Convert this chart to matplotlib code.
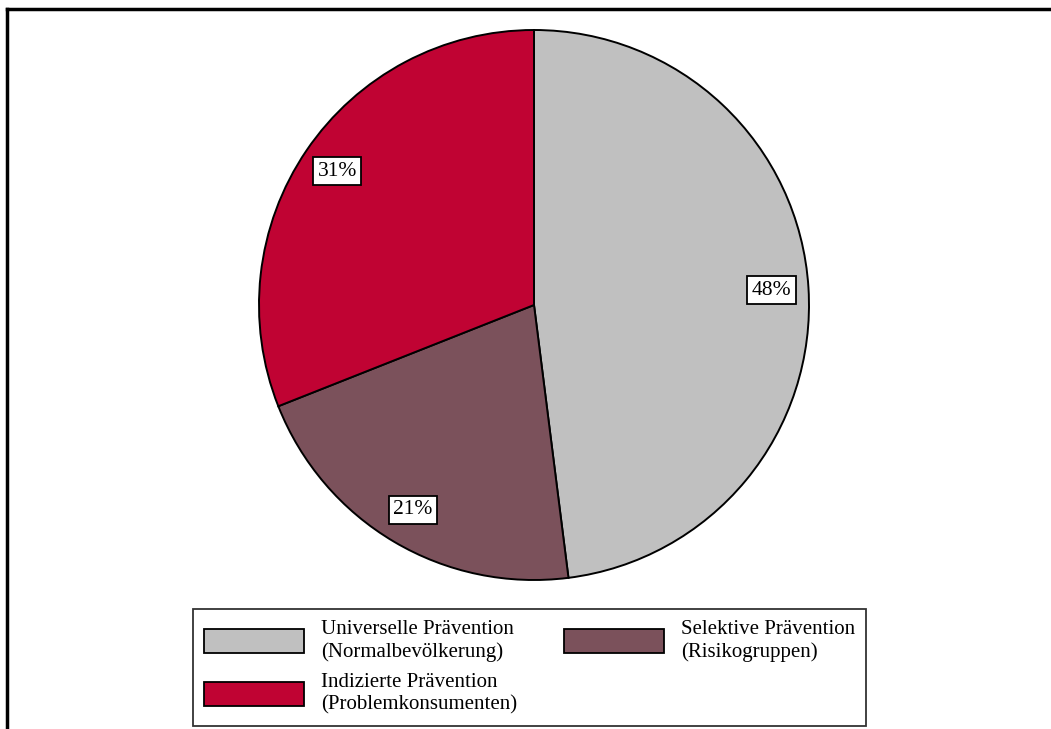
import matplotlib.pyplot as plt
from matplotlib.patches import Patch
from matplotlib.lines import Line2D

plt.rcParams['font.family'] = ['Liberation Serif', 'DejaVu Serif']

labels = ["Universelle Prävention\n(Normalbevölkerung)",
          "Selektive Prävention\n(Risikogruppen)",
          "Indizierte Prävention\n(Problemkonsumenten)"]
shares = [48, 21, 31]
colors = ["#c0c0c0", "#7b515b", "#c00333"]

fig = plt.figure(figsize=(10.51, 7.29), dpi=100)
W, H = 1051, 729

# pie axes: centre (534, 305) px, radius 275 px
cx, cy, r = 534, 305, 275
ax = fig.add_axes([(cx - r) / W, (H - cy - r) / H, 2 * r / W, 2 * r / H])
wedges, texts = ax.pie(shares, colors=colors, startangle=90, counterclock=False,
                       labels=[f"{s}%" for s in shares], labeldistance=0.865,
                       wedgeprops=dict(edgecolor="black", linewidth=1.4),
                       textprops=dict(fontsize=15.5, ha="center", va="center"))
for t in texts:
    t.set_horizontalalignment("center")
    t.set_bbox(dict(boxstyle="square,pad=0.2", facecolor="white",
                    edgecolor="black", linewidth=1.3))
ax.set_xlim(-1, 1)
ax.set_ylim(-1, 1)
ax.set_aspect("equal")
ax.axis("off")

# legend
handles = [Patch(facecolor=colors[i], edgecolor="black", linewidth=1.3) for i in (0, 2, 1)]
leg_labels = [labels[i] for i in (0, 2, 1)]
leg = fig.legend(handles, leg_labels, ncol=2, loc="lower left",
                 bbox_to_anchor=(193 / W, (H - 726) / H),
                 fontsize=15, frameon=True, fancybox=False,
                 handlelength=4.8, handleheight=1.35, handletextpad=0.8,
                 columnspacing=2.25, labelspacing=0.55, borderpad=0.55,
                 borderaxespad=0)
leg.get_frame().set_edgecolor("black")
leg.get_frame().set_linewidth(1.3)

# outer frame (top and left only visible)
fig.add_artist(Line2D([7 / W, 1], [(H - 9) / H, (H - 9) / H], color="black", linewidth=2.5,
                      transform=fig.transFigure))
fig.add_artist(Line2D([7 / W, 7 / W], [0, (H - 9) / H], color="black", linewidth=2.5,
                      transform=fig.transFigure))

fig.savefig("out.png", dpi=100)
